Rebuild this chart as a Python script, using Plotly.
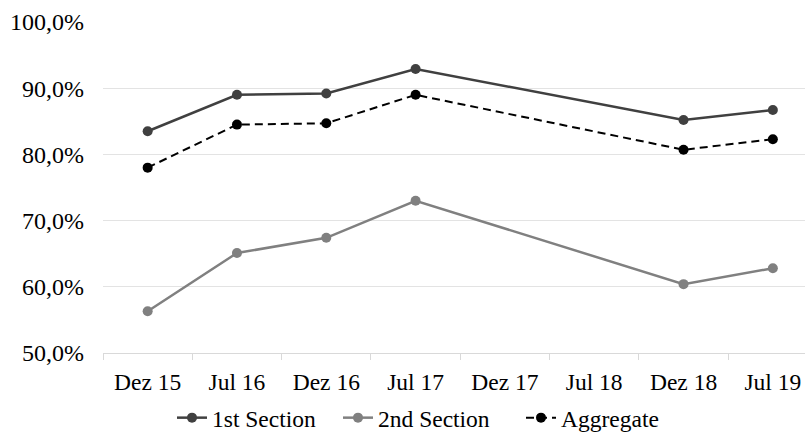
import plotly.graph_objects as go

categories = ["Dez 15", "Jul 16", "Dez 16", "Jul 17", "Dez 17", "Jul 18", "Dez 18", "Jul 19"]
first_section = [83.5, 89.0, 89.2, 92.9, None, None, 85.2, 86.7]
second_section = [56.3, 65.1, 67.4, 73.0, None, None, 60.4, 62.8]
aggregate = [78.0, 84.5, 84.7, 89.0, None, None, 80.7, 82.3]
y_ticks = [50, 60, 70, 80, 90, 100]


def frac(vals):
    return [None if v is None else v / 100 for v in vals]


font = "Liberation Serif"
W, H = 805, 432

fig = go.Figure()
fig.add_trace(go.Scatter(x=categories, y=frac(first_section), name="1st Section", mode="lines+markers",
                         connectgaps=True, line=dict(color="#404040", width=2.5),
                         marker=dict(color="#404040", size=10), legend="legend"))
fig.add_trace(go.Scatter(x=categories, y=frac(second_section), name="2nd Section", mode="lines+markers",
                         connectgaps=True, line=dict(color="#808080", width=2.5),
                         marker=dict(color="#808080", size=10), legend="legend2"))
fig.add_trace(go.Scatter(x=categories, y=frac(aggregate), name="Aggregate", mode="lines+markers",
                         connectgaps=True, line=dict(color="#000000", width=2, dash="8px,5px"),
                         marker=dict(color="#000000", size=10), legend="legend3"))

leg_common = dict(orientation="h", y=-0.196, yanchor="middle", xanchor="left",
                  font=dict(family=font, size=23.5), bgcolor="rgba(0,0,0,0)")

fig.update_layout(
    width=W, height=H,
    margin=dict(l=103, r=0, t=22, b=79, autoexpand=False),
    paper_bgcolor="white", plot_bgcolor="white",
    separators=",.",
    font=dict(family=font, size=23.5, color="#000000"),
    showlegend=True,
    legend=dict(x=(172 - 103) / 702, **leg_common),
    legend2=dict(x=(338 - 103) / 702, **leg_common),
    legend3=dict(x=(521 - 103) / 702, **leg_common),
    xaxis=dict(type="category", categoryorder="array", categoryarray=categories,
               range=[-0.5, 7.36], showgrid=False, showline=True, linecolor="#d9d9d9",
               linewidth=1, ticks="outside", tickson="boundaries", ticklen=6,
               tickcolor="#d9d9d9", zeroline=False, automargin=False, ticklabelstandoff=8),
    yaxis=dict(range=[0.5, 1.0], tickvals=[t / 100 for t in y_ticks], tickformat=".1%",
               showgrid=True, gridcolor="#e3e3e3", gridwidth=1, zeroline=False,
               showline=False, ticks="", ticklabelstandoff=18, automargin=False,
               tickfont=dict(size=24)),
)

fig.write_html("out.html", config={"displayModeBar": False},
               post_script="document.body.style.margin='0';document.body.style.overflow='hidden';")
